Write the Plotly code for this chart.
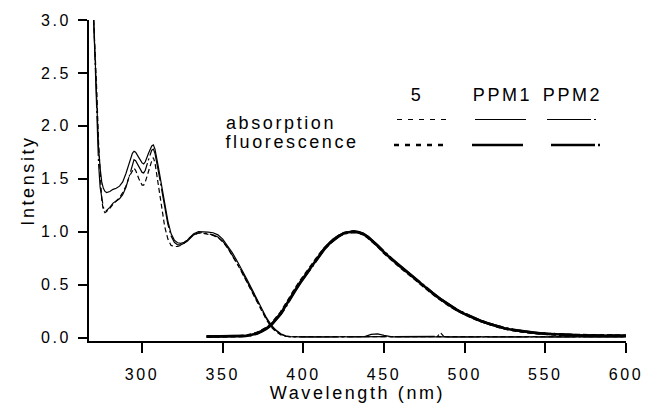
import plotly.graph_objects as go

# ---------------- data ----------------
abs_wl = [270, 271, 272, 273, 274, 275, 276, 277, 278, 280, 282, 284, 286, 288, 290,
          292, 294, 295, 296, 298, 300, 301, 302, 304, 306, 307, 308, 310, 312, 314,
          316, 318, 320, 322, 324, 326, 328, 330, 332, 335, 338, 341, 344, 347, 350,
          353, 356, 359, 362, 365, 368, 371, 374, 377, 380, 383, 386, 389, 392, 395,
          400, 410, 420, 430, 438, 442, 446, 450, 455, 460, 470, 480, 483, 485, 487,
          490, 500, 520, 540, 560, 580, 600]

abs_5 = [3.0, 2.7, 2.3, 1.85, 1.5, 1.3, 1.2, 1.18, 1.19, 1.22, 1.26, 1.29, 1.32, 1.37, 1.43,
         1.52, 1.58, 1.60, 1.58, 1.50, 1.44, 1.44, 1.47, 1.58, 1.67, 1.70, 1.65, 1.45, 1.25, 1.05,
         0.93, 0.87, 0.86, 0.86, 0.87, 0.89, 0.92, 0.95, 0.97, 0.985, 0.985, 0.975, 0.965, 0.945, 0.905,
         0.845, 0.775, 0.695, 0.61, 0.52, 0.43, 0.34, 0.25, 0.17, 0.10, 0.055, 0.025, 0.012, 0.008, 0.008,
         0.008, 0.008, 0.008, 0.008, 0.008, 0.008, 0.008, 0.008, 0.008, 0.008, 0.008, 0.008, 0.008, 0.008, 0.008,
         0.008, 0.008, 0.008, 0.008, 0.008, 0.008, 0.008]

abs_ppm1 = [3.0, 2.55, 2.1, 1.8, 1.6, 1.47, 1.41, 1.38, 1.37, 1.38, 1.40, 1.41, 1.43, 1.47, 1.55,
            1.65, 1.74, 1.76, 1.75, 1.70, 1.65, 1.64, 1.66, 1.74, 1.81, 1.82, 1.78, 1.62, 1.45, 1.28,
            1.10, 0.98, 0.92, 0.895, 0.89, 0.90, 0.92, 0.95, 0.98, 1.0, 1.0, 0.995, 0.99, 0.97, 0.93,
            0.87, 0.80, 0.72, 0.64, 0.55, 0.46, 0.37, 0.28, 0.19, 0.12, 0.07, 0.035, 0.015, 0.008, 0.006,
            0.006, 0.006, 0.006, 0.006, 0.008, 0.03, 0.035, 0.02, 0.006, 0.006, 0.006, 0.006, 0.006, 0.006, 0.006,
            0.006, 0.006, 0.006, 0.006, 0.006, 0.006, 0.006]

abs_ppm2 = [3.0, 2.5, 2.0, 1.65, 1.42, 1.3, 1.23, 1.20, 1.20, 1.23, 1.27, 1.29, 1.31, 1.35, 1.42,
            1.52, 1.64, 1.68, 1.67, 1.61, 1.56, 1.555, 1.58, 1.68, 1.77, 1.78, 1.74, 1.58, 1.42, 1.25,
            1.07, 0.96, 0.90, 0.875, 0.875, 0.89, 0.91, 0.94, 0.97, 0.99, 0.99, 0.98, 0.97, 0.95, 0.91,
            0.85, 0.78, 0.70, 0.62, 0.53, 0.44, 0.35, 0.26, 0.18, 0.11, 0.065, 0.03, 0.012, 0.006, 0.005,
            0.005, 0.005, 0.005, 0.005, 0.005, 0.005, 0.005, 0.005, 0.005, 0.005, 0.005, 0.005, 0.01, 0.045, 0.01,
            0.005, 0.005, 0.005, 0.005, 0.005, 0.005, 0.005]

fl_wl = [340, 345, 350, 355, 360, 365, 368, 371, 374, 377, 380, 383, 386, 389, 392,
         395, 398, 401, 404, 407, 410, 413, 416, 419, 422, 425, 428, 431, 434, 437,
         440, 443, 446, 450, 455, 460, 465, 470, 475, 480, 485, 490, 495, 500, 505,
         510, 515, 520, 525, 530, 535, 540, 545, 550, 555, 560, 570, 580, 590, 600]

fl_5 = [0.010, 0.010, 0.010, 0.010, 0.012, 0.018, 0.028, 0.042, 0.065, 0.09, 0.125, 0.178, 0.236, 0.31, 0.39,
        0.46, 0.53, 0.595, 0.66, 0.725, 0.785, 0.84, 0.89, 0.93, 0.96, 0.985, 0.995, 1.0, 0.995, 0.975,
        0.945, 0.905, 0.865, 0.80, 0.73, 0.665, 0.605, 0.54, 0.475, 0.415, 0.36, 0.305, 0.26, 0.22, 0.185,
        0.155, 0.128, 0.105, 0.085, 0.07, 0.058, 0.048, 0.04, 0.034, 0.029, 0.026, 0.022, 0.019, 0.017, 0.016]

fl_ppm1 = [0.010, 0.010, 0.010, 0.010, 0.012, 0.017, 0.026, 0.038, 0.06, 0.085, 0.12, 0.17, 0.228, 0.30, 0.38,
           0.45, 0.52, 0.585, 0.65, 0.72, 0.78, 0.84, 0.89, 0.93, 0.96, 0.985, 0.995, 1.0, 0.995, 0.978,
           0.95, 0.91, 0.87, 0.805, 0.735, 0.67, 0.61, 0.545, 0.48, 0.42, 0.362, 0.308, 0.262, 0.222, 0.187,
           0.156, 0.129, 0.106, 0.086, 0.071, 0.059, 0.049, 0.041, 0.035, 0.03, 0.026, 0.022, 0.019, 0.017, 0.016]

fl_ppm2 = [0.008, 0.008, 0.008, 0.008, 0.010, 0.015, 0.024, 0.036, 0.057, 0.082, 0.116, 0.165, 0.222, 0.292, 0.372,
           0.443, 0.515, 0.58, 0.645, 0.715, 0.775, 0.835, 0.885, 0.925, 0.958, 0.982, 0.994, 1.0, 0.996, 0.98,
           0.952, 0.912, 0.872, 0.81, 0.74, 0.675, 0.612, 0.548, 0.482, 0.422, 0.364, 0.31, 0.264, 0.224, 0.188,
           0.157, 0.13, 0.107, 0.087, 0.072, 0.06, 0.05, 0.042, 0.035, 0.03, 0.026, 0.022, 0.019, 0.017, 0.016]

x_ticks = [300, 350, 400, 450, 500, 550, 600]
y_ticks = [0.0, 0.5, 1.0, 1.5, 2.0, 2.5, 3.0]
col_labels = ["5", "PPM1", "PPM2"]
row_labels = ["absorption", "fluorescence"]

# ---------------- layout geometry ----------------
W, H = 645, 403
ML, MR, MT, MB = 89, 19, 20, 62
FONT = "Liberation Sans, Arial, sans-serif"


def pxx(px):
    return (px - ML) / (W - ML - MR)


def pxy(py):
    return (H - MB - py) / (H - MT - MB)


fig = go.Figure()

abs_styles = [("5", abs_5, "5px,3px"), ("PPM1", abs_ppm1, "solid"), ("PPM2", abs_ppm2, "40px,3px,2px,3px")]
for name, ys, dash in abs_styles:
    fig.add_trace(go.Scatter(x=abs_wl, y=ys, mode="lines", name=name + " absorption",
                             line=dict(color="black", width=1.2, dash=dash), showlegend=False))

fl_styles = [("5", fl_5, "5px,3px"), ("PPM1", fl_ppm1, "solid"), ("PPM2", fl_ppm2, "40px,3px,2px,3px")]
for name, ys, dash in fl_styles:
    fig.add_trace(go.Scatter(x=fl_wl, y=ys, mode="lines", name=name + " fluorescence",
                             line=dict(color="black", width=2.6, dash=dash), showlegend=False))

# ---------------- custom legend ----------------
annotations = []
col_x = [417, 502, 572]
for lab, cx in zip(col_labels, col_x):
    annotations.append(dict(text=lab, x=pxx(cx), y=pxy(95.5), xref="paper", yref="paper",
                            xanchor="center", yanchor="middle", showarrow=False,
                            font=dict(size=18, color="black", family=FONT)))
row_x = [281, 292]
row_y = [122.5, 141.5]
for lab, rx, ry in zip(row_labels, row_x, row_y):
    annotations.append(dict(text=lab, x=pxx(rx), y=pxy(ry), xref="paper", yref="paper",
                            xanchor="center", yanchor="middle", showarrow=False,
                            font=dict(size=18, color="black", family=FONT)))

shapes = []
leg_lines = [
    (397, 446, 119.5, 1.1, "5px,6px"),
    (475, 526, 119.5, 1.1, "solid"),
    (547, 596, 119.5, 1.1, "44px,3px,2px,3px"),
    (394, 443, 145.0, 2.6, "5px,6px"),
    (472, 523, 145.0, 2.6, "solid"),
    (551, 600, 145.0, 2.6, "44px,3px,2px,3px"),
]
for x0, x1, yy, wdt, dash in leg_lines:
    shapes.append(dict(type="line", xref="paper", yref="paper", x0=pxx(x0), x1=pxx(x1),
                       y0=pxy(yy), y1=pxy(yy), line=dict(color="black", width=wdt, dash=dash)))

fig.update_layout(
    width=W, height=H,
    margin=dict(l=ML, r=MR, t=MT, b=MB, autoexpand=False),
    paper_bgcolor="white", plot_bgcolor="white",
    font=dict(family=FONT, size=16, color="black"),
    showlegend=False,
    annotations=annotations,
    shapes=shapes,
    xaxis=dict(range=[267.1, 600], tickvals=x_ticks, ticks="outside", ticklen=10, tickwidth=1.5,
               tickcolor="black", showline=True, linecolor="black", linewidth=1.5,
               showgrid=False, zeroline=False, ticklabelstandoff=8,
               tickfont=dict(size=16, family=FONT),
               title=dict(text="Wavelength (nm)", font=dict(size=18, family=FONT), standoff=4)),
    yaxis=dict(range=[-0.033, 3.0], tickvals=y_ticks, tickformat=".1f", ticks="outside", ticklen=9,
               tickwidth=1.5, tickcolor="black", showline=True, linecolor="black", linewidth=1.5,
               showgrid=False, zeroline=False, ticklabelstandoff=4,
               tickfont=dict(size=16, family=FONT),
               title=dict(text="Intensity", font=dict(size=18, family=FONT), standoff=9)),
)

post = ("var s=document.createElement('style');"
        "s.innerHTML='body{margin:0;padding:0} svg text{letter-spacing:2.6px}';"
        "document.head.appendChild(s);")

fig.write_html("out.html", post_script=post, config={"displayModeBar": False})
